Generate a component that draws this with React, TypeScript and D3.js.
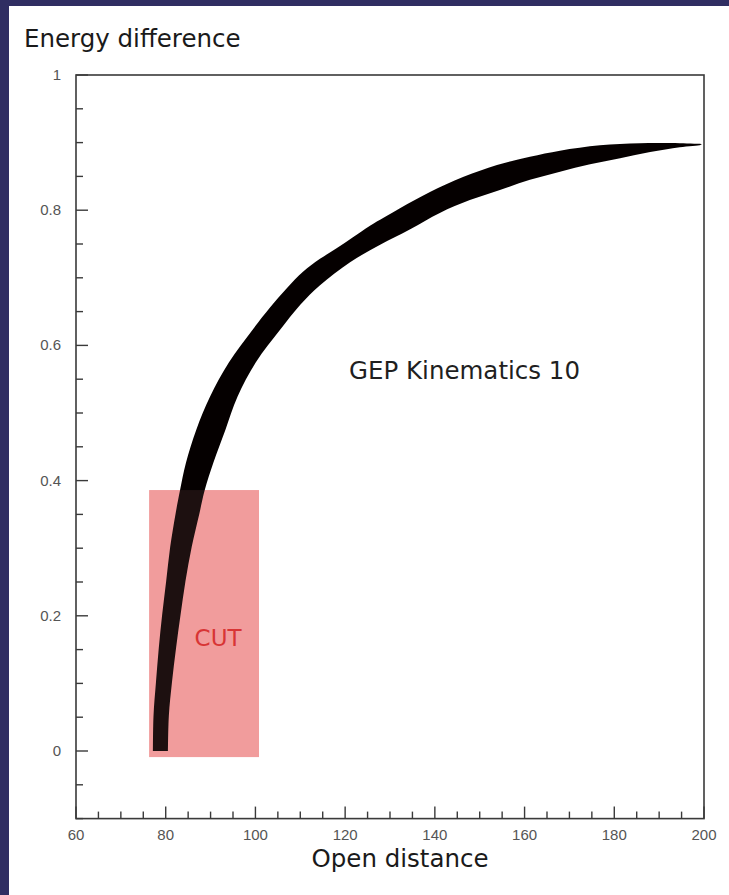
import React from "react";
import * as d3 from "d3";

const W = 729;
const H = 895;

// Axis tick values
const xMajorTicks = [60, 80, 100, 120, 140, 160, 180, 200];
const xMinorTicks = d3.range(60, 200.01, 5);
const yMajorTicks = [0, 0.2, 0.4, 0.6, 0.8, 1];
const yMinorTicks = d3.range(-0.1, 1.001, 0.05).map((v) => +v.toFixed(2));
const yTickLabels = ["0", "0.2", "0.4", "0.6", "0.8", "1"];

// Upper / left edge of the scatter band (x = open distance, y = energy difference)
const upperEdgeX = [77.16, 77.28, 77.83, 78.45, 79.2, 80.1, 81.0, 82.2, 83.2, 84.5, 86.8, 89.87, 94.11, 99.46, 103.25, 107.04, 110.6, 114.39, 118.18, 121.74, 125.54, 132.22, 138.91, 146.27, 153.85, 161.2, 167.89, 176.81, 185.72, 194.64, 199.55];
const upperEdgeY = [0.0, 0.052, 0.102, 0.152, 0.201, 0.251, 0.302, 0.351, 0.386, 0.426, 0.475, 0.524, 0.575, 0.624, 0.656, 0.685, 0.709, 0.728, 0.744, 0.76, 0.777, 0.803, 0.827, 0.849, 0.867, 0.879, 0.888, 0.896, 0.899, 0.899, 0.898];

// Lower / right edge of the scatter band
const lowerEdgeX = [80.51, 80.7, 81.4, 82.3, 83.3, 84.4, 85.8, 87.5, 88.7, 90.6, 93.3, 96.0, 100.1, 105.5, 110.0, 114.4, 121.1, 127.8, 134.5, 141.1, 147.8, 154.5, 161.2, 167.9, 174.6, 181.3, 188.0, 194.6, 199.1];
const lowerEdgeY = [0.0, 0.052, 0.102, 0.152, 0.201, 0.251, 0.302, 0.351, 0.386, 0.426, 0.475, 0.524, 0.575, 0.623, 0.66, 0.689, 0.723, 0.749, 0.772, 0.796, 0.815, 0.83, 0.845, 0.857, 0.868, 0.877, 0.886, 0.893, 0.896];

// Cut region
const cutX = [76.3, 100.8];
const cutY = [-0.009, 0.386];

const FONT = "'DejaVu Sans', sans-serif";
const TICK_FONT = "'Liberation Sans', Arial, sans-serif";

export default function App() {
  const x = d3.scaleLinear().domain([60, 200]).range([76, 704]);
  const y = d3.scaleLinear().domain([-0.1, 1]).range([818.6, 75]);

  const upper: [number, number][] = upperEdgeX.map((v, i) => [v, upperEdgeY[i]]);
  const lower: [number, number][] = lowerEdgeX.map((v, i) => [v, lowerEdgeY[i]]);
  const edge = d3
    .line<[number, number]>()
    .x((d) => x(d[0]))
    .y((d) => y(d[1]))
    .curve(d3.curveCatmullRom.alpha(0.5));
  const upperD = edge(upper) || "";
  const lowerD = edge(lower.slice().reverse()) || "";
  const bandPath = upperD + "L" + lowerD.slice(1) + "Z";

  const [x0, x1] = x.range();
  const [yb, yt] = y.range();
  const isMajorX = (v: number) => xMajorTicks.includes(v);
  const isMajorY = (v: number) => yMajorTicks.some((m) => Math.abs(m - v) < 1e-6);

  return (
    <svg
      width={W}
      height={H}
      style={{ position: "absolute", left: 0, top: 0, display: "block" }}
    >
      <rect x={0} y={0} width={W} height={H} fill="#302e62" />
      <rect x={9} y={6} width={W - 9} height={H - 6} fill="#ffffff" />

      <text x={24} y={47} fontFamily={FONT} fontSize={24.5} fill="#1a1a1a">
        Energy difference
      </text>

      {/* cut rectangle */}
      <rect
        x={x(cutX[0])}
        y={y(cutY[1])}
        width={x(cutX[1]) - x(cutX[0])}
        height={y(cutY[0]) - y(cutY[1])}
        fill="#f19c9c"
      />

      {/* scatter band */}
      <path d={bandPath} fill="#050000" />

      {/* pink tint over band inside cut */}
      <rect
        x={x(cutX[0])}
        y={y(cutY[1])}
        width={x(cutX[1]) - x(cutX[0])}
        height={y(cutY[0]) - y(cutY[1])}
        fill="#f19c9c"
        opacity={0.1}
      />

      <text
        x={(x(cutX[0]) + x(cutX[1])) / 2 + 14}
        y={y(0.16) + 3}
        fontFamily={FONT}
        fontSize={23}
        fill="#d83535"
        textAnchor="middle"
      >
        CUT
      </text>

      <text x={349} y={379} fontFamily={FONT} fontSize={24.5} fill="#1f1f1f">
        GEP Kinematics 10
      </text>

      {/* frame */}
      <rect
        x={x0}
        y={yt}
        width={x1 - x0}
        height={yb - yt}
        fill="none"
        stroke="#3a3a3a"
        strokeWidth={1.6}
      />

      {/* x ticks */}
      {xMinorTicks.map((v) => (
        <line
          key={"xt" + v}
          x1={x(v)}
          x2={x(v)}
          y1={yb}
          y2={yb - (isMajorX(v) ? 12 : 7)}
          stroke="#3a3a3a"
          strokeWidth={1.4}
        />
      ))}
      {xMajorTicks.map((v) => (
        <text
          key={"xl" + v}
          x={x(v)}
          y={840}
          fontFamily={TICK_FONT}
          fontSize={15}
          fill="#555"
          textAnchor="middle"
        >
          {v}
        </text>
      ))}

      {/* y ticks */}
      {yMinorTicks.map((v) => (
        <line
          key={"yt" + v}
          x1={x0}
          x2={x0 + (isMajorY(v) ? 12 : 7)}
          y1={y(v)}
          y2={y(v)}
          stroke="#3a3a3a"
          strokeWidth={1.4}
        />
      ))}
      {yMajorTicks.map((v, i) => (
        <text
          key={"yl" + v}
          x={61}
          y={y(v) + 5}
          fontFamily={TICK_FONT}
          fontSize={15}
          fill="#555"
          textAnchor="end"
        >
          {yTickLabels[i]}
        </text>
      ))}

      <text
        x={400}
        y={867}
        fontFamily={FONT}
        fontSize={24.5}
        fill="#1a1a1a"
        textAnchor="middle"
      >
        Open distance
      </text>
    </svg>
  );
}
